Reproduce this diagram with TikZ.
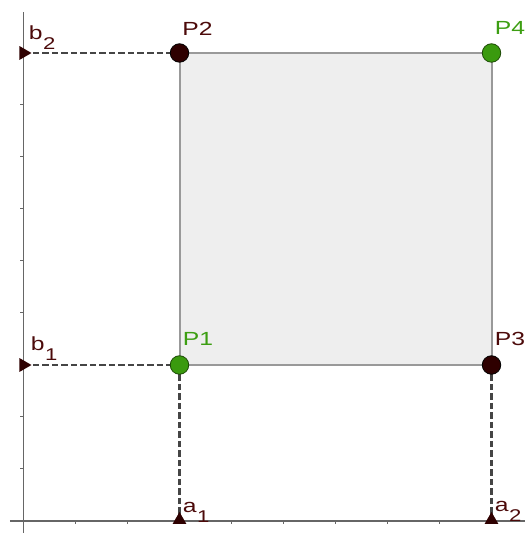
\documentclass[tikz,border=0pt]{standalone}
\usepackage{fontspec}
\setmainfont{Liberation Sans}
\newfontfamily\lblfont[FakeStretch=1.3]{Liberation Sans}
\usetikzlibrary{shapes.geometric}
\definecolor{ptdark}{HTML}{2E0000}
\definecolor{lbldark}{HTML}{4C0A0A}
\definecolor{ptgreen}{HTML}{3A9A0E}
\definecolor{lblgreen}{HTML}{3C9E12}
\definecolor{ptgreenline}{HTML}{1C4A05}
\definecolor{axiscol}{HTML}{666666}
\definecolor{sqfill}{HTML}{EEEEEE}
\definecolor{sqline}{HTML}{999999}
\definecolor{dashcol}{HTML}{454545}
\tikzset{
  axisline/.style={draw=axiscol, line width=1.5pt},
  tickline/.style={draw=axiscol, line width=1pt},
  projline/.style={draw=dashcol, line width=2.8pt, dash pattern=on 6.5pt off 3pt},
  darkpt/.style={circle, fill=ptdark, draw=black, line width=0.8pt, minimum size=18.5pt, inner sep=0pt},
  greenpt/.style={circle, fill=ptgreen, draw=ptgreenline, line width=0.8pt, minimum size=18.5pt, inner sep=0pt},
  marker/.style={regular polygon, regular polygon sides=3, fill=ptdark, inner sep=0pt, minimum size=16pt},
  darklbl/.style={text=lbldark, font=\lblfont\fontsize{19}{19}\selectfont, inner sep=0pt},
  greenlbl/.style={text=lblgreen, font=\lblfont\fontsize{19}{19}\selectfont, inner sep=0pt},
}
\newcommand{\subl}[2]{#1\kern0.5pt\raisebox{-10pt}{\fontsize{17}{17}\selectfont #2}}
\begin{document}
\begin{tikzpicture}[x=52pt, y=52pt]
\useasboundingbox (-0.4519,-0.2308) rectangle (9.6442,10.0192);
% coordinates of the corners
\coordinate (P1) at (3,3);
\coordinate (P2) at (3,9);
\coordinate (P3) at (9,3);
\coordinate (P4) at (9,9);
\coordinate (A1) at (3,0);
\coordinate (A2) at (9,0);
\coordinate (B1) at (0,3);
\coordinate (B2) at (0,9);
% square
\draw[fill=sqfill, draw=sqline, line width=2pt] (P1) -- (P3) -- (P4) -- (P2) -- cycle;
% axes
\coordinate (xl) at (-0.26,0);
\coordinate (xr) at (9.6442,0);
\coordinate (yb) at (0,-0.2308);
\coordinate (yt) at (0,9.79);
\draw[axisline] (xl) -- (xr);
\draw[axisline] (yb) -- (yt);
\foreach \i in {1,...,9} {
  \draw[tickline] (\i,0) -- ++(0,-3.5pt);
  \draw[tickline] (0,\i) -- ++(-3.5pt,0);
}
% projections
\draw[projline] (B2) -- (P2);
\draw[projline] (B1) -- (P1);
\draw[projline] (P1) -- (A1);
\draw[projline] (P3) -- (A2);
% markers
\node[marker, shape border rotate=-90] (mb2) at (B2) {};
\node[marker, shape border rotate=-90] (mb1) at (B1) {};
\node[marker] (ma1) at ([yshift=1pt]A1) {};
\node[marker] (ma2) at ([yshift=1pt]A2) {};
% points
\node[greenpt] (p1) at (P1) {};
\node[darkpt] (p2) at (P2) {};
\node[darkpt] (p3) at (P3) {};
\node[greenpt] (p4) at (P4) {};
% labels
\node[greenlbl] (lp1) at (3.356,3.5) {P1};
\node[darklbl] (lp2) at (3.346,9.462) {P2};
\node[darklbl] (lp3) at (9.356,3.5) {P3};
\node[greenlbl] (lp4) at (9.356,9.481) {P4};
\node[darklbl, anchor=base west] (lb2) at (0.10,9.269) {\subl{b}{2}};
\node[darklbl, anchor=base west] (lb1) at (0.14,3.279) {\subl{b}{1}};
\node[darklbl, anchor=base west] (la1) at (3.06,0.17) {\subl{a}{1}};
\node[darklbl, anchor=base west] (la2) at (9.06,0.19) {\subl{a}{2}};
\end{tikzpicture}
\end{document}
